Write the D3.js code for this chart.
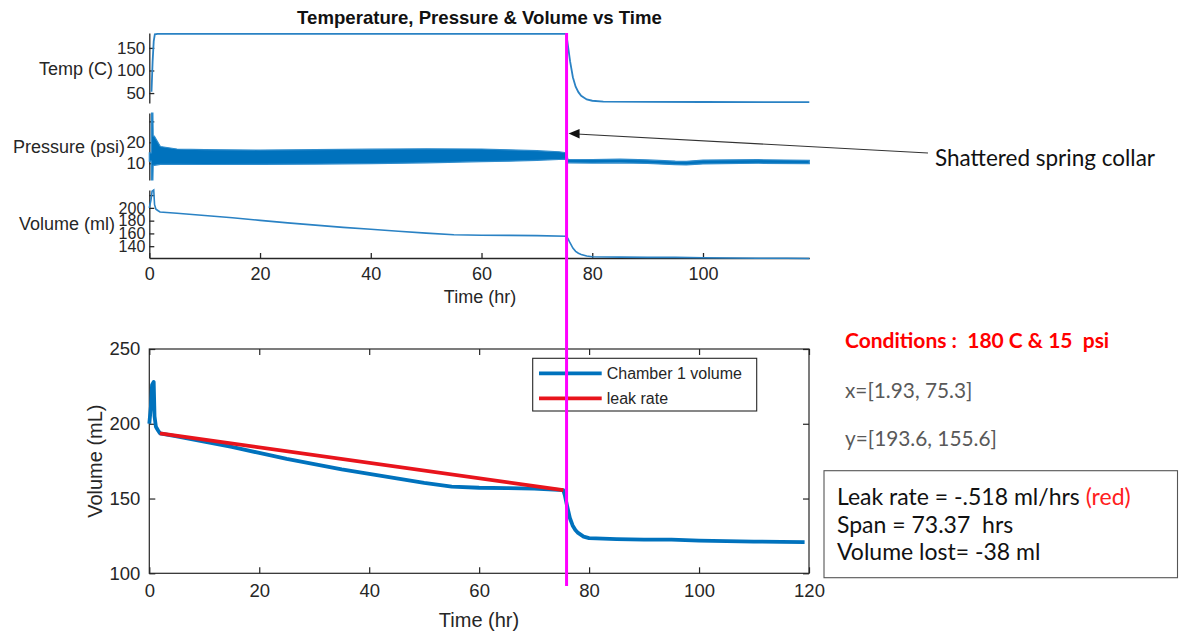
<!DOCTYPE html>
<html>
<head>
<meta charset="utf-8">
<script src="https://cdn.jsdelivr.net/npm/d3@7"></script>
<style>
  html, body { margin: 0; padding: 0; background: #fff; }
  svg { display: block; }
  .mat { font-family: "Liberation Sans", Arial, Helvetica, sans-serif; fill: #262626; }
  .note { font-family: Lato, "Open Sans", sans-serif; white-space: pre; }
</style>
</head>
<body>
<svg id="chart" width="1179" height="635"></svg>
<script>
// ---- data ----
// Chamber 1 volume (mL) vs time (hr)
const volTime = [0, 0.3, 0.5, 0.8, 0.95, 1.2, 1.6, 1.93, 5, 10, 15, 20, 25, 30, 35, 40, 45, 50, 55, 60, 65, 70, 75.3,
  75.6, 76, 76.5, 77, 77.5, 78, 79, 80, 85, 90, 95, 100, 105, 110, 115, 119.2];
const volValue = [200, 212, 226, 228, 205, 198, 195.5, 193.6, 191.5, 188, 184.5, 180.5, 176.5, 173, 169.5, 166.5, 163.5, 160.5, 158, 157.2, 157, 156.6, 155.6,
  152, 145, 137, 132, 129, 127, 124.5, 123.5, 122.8, 122.5, 122.5, 121.8, 121.5, 121.2, 121, 120.8];

// Temperature (C) vs time (hr)
const tempTime = [0.4, 0.6, 0.8, 1.0, 1.5, 10, 30, 50, 70, 75.3, 75.5, 76, 76.5, 77, 77.5, 78, 79, 80, 82, 90, 100, 119.2];
const tempValue = [53, 120, 165, 180, 181, 181, 181, 181, 181, 181, 165, 120, 85, 64, 52, 44, 36, 33, 31, 30.5, 30.2, 30];

// Pressure (psi) envelope of the sampled signal: low / high bounds
const presTime = [0, 0.35, 0.4, 0.65, 0.7, 0.9, 2, 5, 10, 20, 30, 40, 50, 60, 65, 70, 74, 75.3, 75.6, 80, 85, 90, 95, 97, 100, 110, 119.2];
const presLow  = [11, 11, 2, 2, 9, 9, 9.5, 9.5, 9.4, 9.5, 9.6, 9.8, 10.2, 10.8, 11, 11.4, 11.8, 12, 10.2, 10.1, 10.2, 9.9, 9.3, 9.2, 9.7, 10, 9.8];
const presHigh = [15, 15, 34, 34, 23, 23, 18, 16.8, 16.5, 16.3, 16.5, 16.7, 16.9, 16.8, 16.4, 16, 15.5, 15, 11.9, 11.8, 12, 11.6, 11, 10.9, 11.5, 11.7, 11.4];

// Linear leak-rate fit between the two picked points
const leakX = [1.93, 75.3];
const leakY = [193.6, 155.6];

// Time at which the spring collar shattered
const shatterTime = 75.9;

// Tick values and labels
const topXTicks = [0, 20, 40, 60, 80, 100];
const tempTicks = [50, 100, 150];
const presTicks = [10, 20, 30];
const presTickLabels = ["10", "20", ""];
const volTopTicks = [140, 160, 180, 200, 220];
const volTopTickLabels = ["140", "160", "180", "200", ""];
const botXTicks = [0, 20, 40, 60, 80, 100, 120];
const botYTicks = [100, 150, 200, 250];

const legendLabels = ["Chamber 1 volume", "leak rate"];
const noteLines = ["x=[1.93, 75.3]", "y=[193.6, 155.6]"];

// ---- drawing ----
const svg = d3.select("#chart");
svg.append("rect").attr("width", 1179).attr("height", 635).attr("fill", "#fff");

const BLUE = "#0072BD";
const TOPBLUE = "#2a82c4";
const RED = "#e8141c";
const AXIS = "#262626";

const volPts = volTime.map((t, i) => [t, volValue[i]]);
const tempPts = tempTime.map((t, i) => [t, tempValue[i]]);
const presPts = presTime.map((t, i) => ({ t, lo: presLow[i], hi: presHigh[i] }));

// ===== stacked panel: temperature, pressure, volume =====
const xTop = d3.scaleLinear().domain([0, 119.2]).range([149.3, 809.3]);
const yTemp = d3.scaleLinear().domain([28, 183]).range([103, 33]);
const yPres = d3.scaleLinear().domain([2, 34]).range([180, 113]);
const yVolTop = d3.scaleLinear().domain([121.5, 228]).range([258, 190]);

const topG = svg.append("g").attr("class", "mat");

function leftAxis(scale, ticks, labels, size) {
  const g = topG.append("g").attr("transform", `translate(${xTop.range()[0]},0)`);
  const ax = d3.axisLeft(scale).tickValues(ticks).tickSizeInner(-5).tickSizeOuter(0).tickPadding(4)
    .tickFormat((d, i) => labels ? labels[i] : d3.format("d")(d));
  g.call(ax);
  g.select(".domain").attr("stroke", AXIS).attr("stroke-width", 1.3);
  g.selectAll(".tick line").attr("stroke", AXIS).attr("stroke-width", 1.3);
  g.selectAll(".tick text").attr("fill", AXIS).attr("font-size", size)
    .attr("font-family", '"Liberation Sans", Arial, sans-serif');
  return g;
}
leftAxis(yTemp, tempTicks, null, 17);
leftAxis(yPres, presTicks, presTickLabels, 17);
leftAxis(yVolTop, volTopTicks, volTopTickLabels, 16);

const gTopX = topG.append("g").attr("transform", `translate(0,${yVolTop.range()[0]})`)
  .call(d3.axisBottom(xTop).tickValues(topXTicks).tickSizeInner(-5).tickSizeOuter(0).tickPadding(9));
gTopX.select(".domain").attr("stroke", AXIS).attr("stroke-width", 1.3);
gTopX.selectAll(".tick line").attr("stroke", AXIS).attr("stroke-width", 1.3);
gTopX.selectAll(".tick text").attr("fill", AXIS).attr("font-size", 18)
  .attr("font-family", '"Liberation Sans", Arial, sans-serif');

// traces
topG.append("path")
  .datum(tempPts)
  .attr("d", d3.line().x(d => xTop(d[0])).y(d => yTemp(d[1])))
  .attr("fill", "none").attr("stroke", TOPBLUE).attr("stroke-width", 1.8);

topG.append("path")
  .datum(presPts)
  .attr("d", d3.area().x(d => xTop(d.t)).y0(d => yPres(d.lo)).y1(d => yPres(d.hi)))
  .attr("fill", BLUE).attr("stroke", "#2f8ccc").attr("stroke-width", 1.2);

topG.append("path")
  .datum(volPts)
  .attr("d", d3.line().x(d => xTop(d[0])).y(d => yVolTop(d[1])))
  .attr("fill", "none").attr("stroke", TOPBLUE).attr("stroke-width", 1.6);

// labels
topG.append("text").attr("x", 479.5).attr("y", 24).attr("text-anchor", "middle")
  .attr("font-size", 18.6).attr("font-weight", "bold").attr("fill", "#111")
  .text("Temperature, Pressure & Volume vs Time");
topG.append("text").attr("x", 113).attr("y", 75).attr("text-anchor", "end").attr("font-size", 18).text("Temp (C)");
topG.append("text").attr("x", 125).attr("y", 153).attr("text-anchor", "end").attr("font-size", 18).text("Pressure (psi)");
topG.append("text").attr("x", 115).attr("y", 230).attr("text-anchor", "end").attr("font-size", 18).text("Volume (ml)");
topG.append("text").attr("x", 480).attr("y", 303).attr("text-anchor", "middle").attr("font-size", 18).text("Time (hr)");

// ===== single panel: chamber volume with leak-rate fit =====
const xB = d3.scaleLinear().domain([0, 120]).range([149.3, 809]);
const yB = d3.scaleLinear().domain([100, 250]).range([573.3, 349]);
const bot = svg.append("g").attr("class", "mat");

function styleAxis(g, size) {
  g.select(".domain").remove();
  g.selectAll(".tick line").attr("stroke", AXIS).attr("stroke-width", 1.2);
  g.selectAll(".tick text").attr("fill", AXIS).attr("font-size", size)
    .attr("font-family", '"Liberation Sans", Arial, sans-serif');
}
const [bx0, bx1] = xB.range();
const [by0, by1] = [yB.range()[1], yB.range()[0]];

const gxb = bot.append("g").attr("transform", `translate(0,${by1})`)
  .call(d3.axisBottom(xB).tickValues(botXTicks).tickSizeInner(-6).tickSizeOuter(0).tickPadding(11));
styleAxis(gxb, 18.5);
const gxt = bot.append("g").attr("transform", `translate(0,${by0})`)
  .call(d3.axisTop(xB).tickValues(botXTicks).tickSizeInner(-6).tickSizeOuter(0).tickFormat(""));
styleAxis(gxt, 18.5);
const gyl = bot.append("g").attr("transform", `translate(${bx0},0)`)
  .call(d3.axisLeft(yB).tickValues(botYTicks).tickSizeInner(-6).tickSizeOuter(0).tickPadding(9));
styleAxis(gyl, 18.5);
const gyr = bot.append("g").attr("transform", `translate(${bx1},0)`)
  .call(d3.axisRight(yB).tickValues(botYTicks).tickSizeInner(-6).tickSizeOuter(0).tickFormat(""));
styleAxis(gyr, 18.5);

bot.append("rect").attr("x", bx0).attr("y", by0).attr("width", bx1 - bx0).attr("height", by1 - by0)
  .attr("fill", "none").attr("stroke", AXIS).attr("stroke-width", 1.2);

bot.append("path")
  .datum(volPts)
  .attr("d", d3.line().x(d => xB(d[0])).y(d => yB(d[1])))
  .attr("fill", "none").attr("stroke", BLUE).attr("stroke-width", 3.8).attr("stroke-linejoin", "round");

bot.append("path")
  .datum(leakX.map((x, i) => [x, leakY[i]]))
  .attr("d", d3.line().x(d => xB(d[0])).y(d => yB(d[1])))
  .attr("fill", "none").attr("stroke", RED).attr("stroke-width", 3.8);

bot.append("text").attr("x", 479).attr("y", 627).attr("text-anchor", "middle").attr("font-size", 20).text("Time (hr)");
bot.append("text").attr("transform", `translate(102,${(by0 + by1) / 2}) rotate(-90)`)
  .attr("text-anchor", "middle").attr("font-size", 20).text("Volume (mL)");

// legend
const lg = bot.append("g");
lg.append("rect").attr("x", 532.7).attr("y", 358.3).attr("width", 224).attr("height", 52.7)
  .attr("fill", "#fff").attr("stroke", AXIS).attr("stroke-width", 1.1);
[BLUE, RED].forEach((c, i) => {
  const yy = 373.3 + i * 25;
  lg.append("line").attr("x1", 539).attr("x2", 601.7).attr("y1", yy).attr("y2", yy)
    .attr("stroke", c).attr("stroke-width", 3.8);
  lg.append("text").attr("x", 606.7).attr("y", yy + 5.8).attr("font-size", 16).text(legendLabels[i]);
});

// shatter marker spanning both panels
svg.append("line")
  .attr("x1", xB(shatterTime)).attr("x2", xB(shatterTime)).attr("y1", 33).attr("y2", 586)
  .attr("stroke", "#ff00ff").attr("stroke-width", 3);

// annotation arrow
const tipX = xB(shatterTime) + 2, tipY = 133.5;
svg.append("line").attr("x1", 928).attr("y1", 153).attr("x2", tipX + 8).attr("y2", tipY + 0.45)
  .attr("stroke", "#333").attr("stroke-width", 1.1);
svg.append("path")
  .attr("d", `M${tipX},${tipY} L${tipX + 11},${tipY - 4.5} L${tipX + 11},${tipY + 5} Z`)
  .attr("fill", "#111");
svg.append("text").attr("class", "note").attr("x", 935).attr("y", 166).attr("font-size", 22.5)
  .attr("fill", "#111").text("Shattered spring collar");

// conditions and fit notes
svg.append("text").attr("class", "note").attr("x", 845).attr("y", 348).attr("font-size", 21)
  .attr("font-weight", "bold").attr("fill", "#ff0000").text("Conditions :  180 C & 15  psi");
noteLines.forEach((s, i) => {
  svg.append("text").attr("class", "note").attr("x", 845).attr("y", 398 + i * 48).attr("font-size", 20.8)
    .attr("fill", "#595959").text(s);
});

// summary box
svg.append("rect").attr("x", 824).attr("y", 470.7).attr("width", 353.5).attr("height", 107)
  .attr("fill", "#fff").attr("stroke", "#555").attr("stroke-width", 1.1);
const sum = svg.append("text").attr("class", "note").attr("font-size", 23).attr("fill", "#111");
sum.append("tspan").attr("x", 837).attr("y", 505).text("Leak rate = -.518 ml/hrs ");
sum.append("tspan").attr("fill", "#ff2020").text("(red)");
sum.append("tspan").attr("x", 837).attr("y", 532.5).text("Span = 73.37  hrs");
sum.append("tspan").attr("x", 837).attr("y", 560).text("Volume lost= -38 ml");
</script>
</body>
</html>
